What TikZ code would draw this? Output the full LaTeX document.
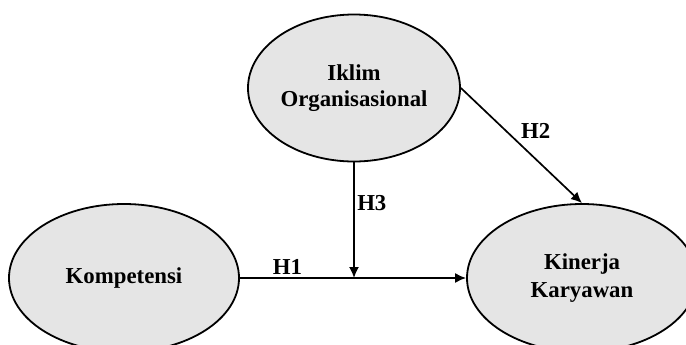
\documentclass[tikz,border=0pt]{standalone}
\usepackage{fontspec}
\setmainfont{Liberation Serif}
\usetikzlibrary{shapes.geometric, arrows.meta, positioning}

\begin{document}
\begin{tikzpicture} [
						x=0.5pt, y=-0.5pt,
						font=\fontsize{11.4}{13}\selectfont\bfseries,
						variabel/.style={ellipse, draw, line width=0.9pt, fill=black!10, inner sep=0pt, align=center},
						panah/.style={-{Latex[length=5.5pt,width=5pt]}, line width=0.85pt},
						label/.style={inner sep=1.2pt}
					]

\useasboundingbox (0,0) rectangle (686,344);

\node (komp) [variabel, minimum width=115pt, minimum height=74pt] at (124,278) {Kompetensi};
\node (iklim) [variabel, minimum width=106pt, minimum height=73.5pt] at (354,88) {Iklim\\[-0.4pt]Organisasional};
\node (kin) [variabel, minimum width=115pt, minimum height=74pt] at (582,278) {Kinerja\\[0.6pt]Karyawan};
\coordinate (temu) at (iklim.south |- komp.east);

\path[panah]
	(komp.east) edge node[label, pos=0.21, above] {H1} (kin.west)
	(iklim.east) edge node[label, pos=0.47, above right] {H2} (kin.north)
	(iklim.south) edge node[label, pos=0.35, right] {H3} (temu);
\end{tikzpicture}
\end{document}
